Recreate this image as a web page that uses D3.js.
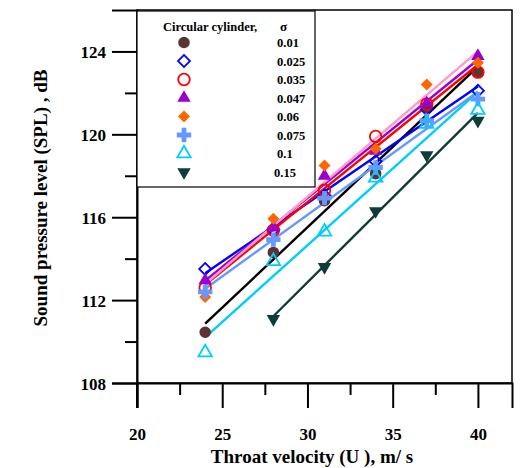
<!DOCTYPE html>
<html lang="en">
<head>
<meta charset="UTF-8">
<title>SPL vs throat velocity</title>
<script src="https://d3js.org/d3.v7.min.js"></script>
<style>
    body { margin: 0; background: #fff; }
    text { font-family: "Liberation Serif", "Times New Roman", serif; font-weight: bold; }
</style>
</head>
<body>
<svg id="chart" width="531" height="468"></svg>
<script>
// data
const velocity = [24, 28, 31, 34, 37, 40];
const sigmaLabels = ["0.01", "0.025", "0.035", "0.047", "0.06", "0.075", "0.1", "0.15"];
const spl001  = [110.45, 114.3, 116.8, 118.1, 121.3, 123.0];
const spl0025 = [113.5, 115.4, 117.05, 118.7, 121.2, 122.1];
const spl0035 = [112.6, 115.37, 117.3, 119.9, 121.46, 123.0];
const spl0047 = [112.95, 115.5, 118.0, 119.2, 121.5, 123.78];
const spl006  = [112.15, 115.93, 118.5, 119.3, 122.4, 123.46];
const spl0075 = [112.4, 114.92, 116.92, 118.4, 120.66, 121.7];
const spl01   = [109.47, 113.88, 115.3, 117.9, 120.5, 121.17];
const spl015  = [null, 111.09, 113.6, 116.3, 119.0, 120.66];
const xTicks = [20, 25, 30, 35, 40];
const yTicks = [108, 112, 116, 120, 124];

const series = [
    { label: sigmaLabels[0], values: spl001,  marker: "circle",  fill: "#5c3232", stroke: "none",    line: "#000000" },
    { label: sigmaLabels[1], values: spl0025, marker: "diamond", fill: "none",    stroke: "#0000ff", line: "#0000ff" },
    { label: sigmaLabels[2], values: spl0035, marker: "circle",  fill: "none",    stroke: "#ff0000", line: "#ff0000" },
    { label: sigmaLabels[3], values: spl0047, marker: "triangle", fill: "#9900cc", stroke: "none",   line: "#9900cc" },
    { label: sigmaLabels[4], values: spl006,  marker: "diamond", fill: "#ff6600", stroke: "none",    line: "#ff99cc" },
    { label: sigmaLabels[5], values: spl0075, marker: "plus",    fill: "#6699ff", stroke: "none",    line: "#6699ff" },
    { label: sigmaLabels[6], values: spl01,   marker: "triangle", fill: "none",   stroke: "#00ccff", line: "#00ccff" },
    { label: sigmaLabels[7], values: spl015,  marker: "tridown", fill: "#0f3b38", stroke: "none",    line: "#0f3b38" }
];

const svg = d3.select("#chart");
const plotLeft = 137, plotRight = 512, plotTop = 10, plotBottom = 383;

const x = d3.scaleLinear().domain([20, 42]).range([plotLeft, plotRight]);
const y = d3.scaleLinear().domain([108, 126]).range([plotBottom, plotTop]);

// markers
function markerPath(kind) {
    if (kind === "circle") return d3.symbol(d3.symbolCircle, 105)();
    if (kind === "diamond") return d3.symbol(d3.symbolSquare, 72)();
    if (kind === "plus") return d3.symbol(d3.symbolCross, 115)();
    return d3.symbol(d3.symbolTriangle, 78)();
}
function markerRot(kind) {
    if (kind === "diamond") return " rotate(45)";
    if (kind === "tridown") return " rotate(180)";
    return "";
}
function drawMarker(g, s, px, py) {
    g.append("path")
        .attr("d", markerPath(s.marker))
        .attr("transform", `translate(${px},${py})` + markerRot(s.marker))
        .attr("fill", s.fill)
        .attr("stroke", s.stroke)
        .attr("stroke-width", s.stroke === "none" ? 0 : 1.8);
}

// least-squares fit for each series
function fit(vals) {
    const pts = velocity.map((v, i) => [v, vals[i]]).filter(p => p[1] != null);
    const mx = d3.mean(pts, p => p[0]), my = d3.mean(pts, p => p[1]);
    const sxy = d3.sum(pts, p => (p[0] - mx) * (p[1] - my));
    const sxx = d3.sum(pts, p => (p[0] - mx) * (p[0] - mx));
    const b = sxy / sxx;
    const x0 = pts[0][0], x1 = pts[pts.length - 1][0];
    return [[x0, my + b * (x0 - mx)], [x1, my + b * (x1 - mx)]];
}

const lineGen = d3.line().x(d => x(d[0])).y(d => y(d[1]));
const lines = svg.append("g");
series.forEach(s => {
    lines.append("path")
        .attr("d", lineGen(fit(s.values)))
        .attr("fill", "none")
        .attr("stroke", s.line)
        .attr("stroke-width", 2.4);
});

const pts = svg.append("g");
series.forEach(s => {
    s.values.forEach((v, i) => {
        if (v == null) return;
        drawMarker(pts, s, x(velocity[i]), y(v));
    });
});

// frame
svg.append("rect")
    .attr("x", plotLeft).attr("y", plotTop)
    .attr("width", plotRight - plotLeft).attr("height", plotBottom - plotTop)
    .attr("fill", "none").attr("stroke", "#000").attr("stroke-width", 1.5);

// x axis: ticks hang below the frame
const xAxis = svg.append("g").attr("transform", `translate(0,${plotBottom})`)
    .call(d3.axisBottom(x).tickValues(xTicks).tickSize(25).tickFormat(d3.format("d")));
svg.append("g").attr("transform", `translate(0,${plotBottom})`)
    .call(d3.axisBottom(x).tickValues([22.5, 27.5, 32.5, 37.5]).tickSize(12).tickFormat(""))
    .call(g => g.select(".domain").remove());

// y axis
const yAxis = svg.append("g").attr("transform", `translate(${plotLeft},0)`)
    .call(d3.axisLeft(y).tickValues(yTicks).tickSize(25).tickFormat(d3.format("d")));
svg.append("g").attr("transform", `translate(${plotLeft},0)`)
    .call(d3.axisLeft(y).tickValues([110, 114, 118, 122]).tickSize(12).tickFormat(""))
    .call(g => g.select(".domain").remove());

svg.selectAll(".tick line").attr("stroke", "#000").attr("stroke-width", 2);
svg.selectAll(".domain").attr("stroke", "#000").attr("stroke-width", 2);
xAxis.selectAll("text").attr("dy", 0).attr("y", 57).attr("font-size", 17)
    .attr("font-family", "Liberation Serif").attr("font-weight", "bold").attr("fill", "#000");
yAxis.selectAll("text").attr("x", -31).attr("dy", "0.36em").attr("font-size", 17)
    .attr("font-family", "Liberation Serif").attr("font-weight", "bold").attr("fill", "#000");
// y axis line runs down to the 20 tick
svg.append("line").attr("x1", plotLeft).attr("x2", plotLeft)
    .attr("y1", plotBottom).attr("y2", plotBottom + 25)
    .attr("stroke", "#000").attr("stroke-width", 2);

// axis titles
svg.append("text")
    .attr("x", 312).attr("y", 463)
    .attr("text-anchor", "middle").attr("font-size", 19)
    .text("Throat velocity (U ), m/ s");
svg.append("text")
    .attr("transform", "translate(47,198) rotate(-90)")
    .attr("text-anchor", "middle").attr("font-size", 19)
    .text("Sound pressure level (SPL) , dB");

// legend
const legend = svg.append("g");
legend.append("rect")
    .attr("x", plotLeft).attr("y", plotTop + 1)
    .attr("width", 178).attr("height", 176)
    .attr("fill", "#fff").attr("stroke", "#000").attr("stroke-width", 1.2);
legend.append("text").attr("x", 163).attr("y", 31).attr("font-size", 12.5)
    .text("Circular cylinder,");
legend.append("text").attr("x", 280).attr("y", 31).attr("font-size", 13)
    .text("σ");
series.forEach((s, i) => {
    const ly = 42.5 + i * 18.5;
    drawMarker(legend, s, 184, ly);
    legend.append("text")
        .attr("x", s.label === "0.15" ? 274 : 277)
        .attr("y", ly + 4.5)
        .attr("font-size", 12.5)
        .text(s.label);
});
</script>
</body>
</html>
